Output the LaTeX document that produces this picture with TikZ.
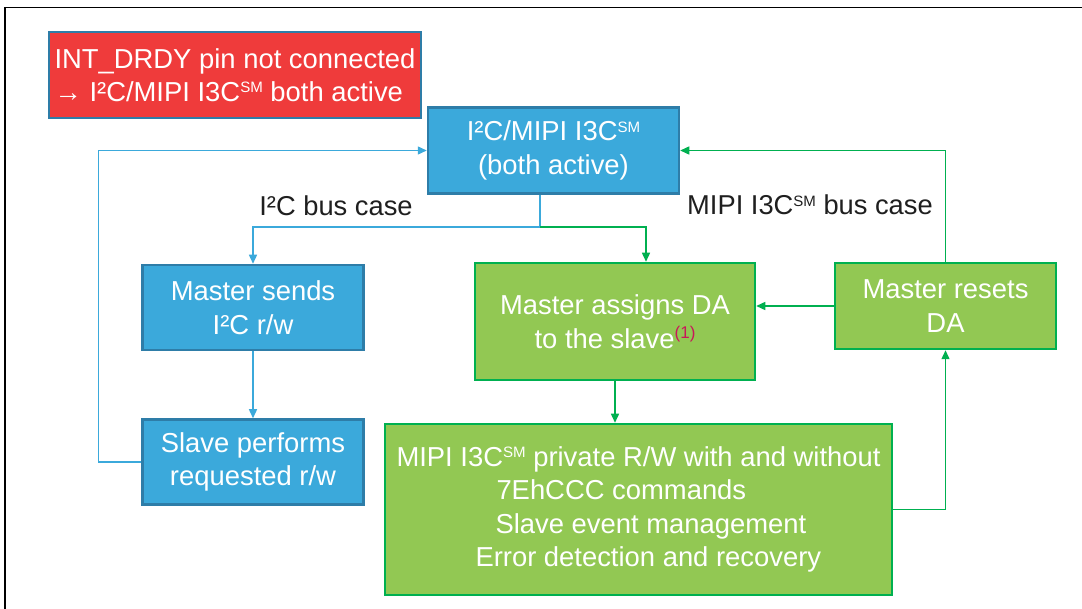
\documentclass[tikz,border=0pt]{standalone}
\usepackage{fontspec}
\usepackage{graphicx}
\setmainfont{Liberation Sans}
\usetikzlibrary{arrows.meta}
\definecolor{bfill}{HTML}{3BA9DB}
\definecolor{bdraw}{HTML}{2E7DA8}
\definecolor{gfill}{HTML}{92C853}
\definecolor{gdraw}{HTML}{00B050}
\definecolor{rfill}{HTML}{EF3B3B}
\definecolor{notec}{HTML}{C8185A}
\newcommand\SMk{\raisebox{0.32em}{\scalebox{0.55}{SM}}}
\newcommand\noteone{\raisebox{0.36em}{\scalebox{0.62}{\color{notec}(1)}}}
\begin{document}
\begin{tikzpicture}[x=1pt,y=-1pt,
 box/.style={rectangle, inner sep=0pt, text=white, align=center, font=\fontsize{27.4}{33.5}\selectfont},
 bluebox/.style={box, fill=bfill, draw=bdraw, line width=2.5pt},
 greenbox/.style={box, fill=gfill, draw=gdraw, line width=2.5pt},
 bl/.style={draw=bfill, line width=1.4pt, -{Triangle[length=9pt,width=8pt]}},
 gl/.style={draw=gdraw, line width=1.4pt, -{Triangle[length=9pt,width=8pt]}},
 lbl/.style={font=\fontsize{27.3}{30}\selectfont, text=black!88, inner sep=0pt}]
\useasboundingbox (0,0) rectangle (1082,609);
\fill[white] (0,0) rectangle (1082,609);
\draw[line width=1.5pt] (5,609) -- (5,7.5) -- (1082,7.5);

\node[box, fill=rfill, draw=bdraw, line width=2pt, minimum width=372, minimum height=86, align=left] (note) at (235,75)
  {INT\_DRDY pin not connected\\→ I²C/MIPI I3C\SMk{} both active};

\node[bluebox, minimum width=251, minimum height=86] (top) at (553.5,150.5) {I²C/MIPI I3C\SMk\\(both active)};
\node[bluebox, minimum width=221, minimum height=85] (ms) at (253,307.5) {Master sends\\I²C r/w};
\node[bluebox, minimum width=221, minimum height=85] (sp) at (253,462) {Slave performs\\requested r/w};
\node[greenbox, minimum width=280, minimum height=117] (ma) at (615,321.5) {Master assigns DA\\to the slave\noteone};
\node[greenbox, minimum width=221, minimum height=86] (mr) at (945.5,306) {Master resets\\DA};
\node[greenbox, minimum width=507, minimum height=171, align=left] (bot) at (638.5,509.5)
  {MIPI I3C\SMk{} private R/W with and without\\
   \hspace*{100pt}7EhCCC commands\\
   \hspace*{99pt}Slave event management\\
   \hspace*{79pt}Error detection and recovery};

\node[lbl] (l1) at (336,206) {I²C bus case};
\node[lbl] (l2) at (810,205) {MIPI I3C\SMk{} bus case};

\coordinate (split) at (540,227);
\draw[bl] (top.south -| split) -- (split) -| (ms.north);
\draw[gl] (split) -| ([xshift=31pt]ma.north);
\draw[bl] (ms) -- (sp);
\draw[bl] (sp.west) -- ++(-43,0) |- (top.west);
\draw[gl] (ma.south) -- (ma.south |- bot.north);
\draw[gl] (bot.east) -| (mr.south);
\draw[gl] (mr.west) -- (mr.west -| ma.east);
\draw[gl] (mr.north) |- (top.east);
\end{tikzpicture}
\end{document}
